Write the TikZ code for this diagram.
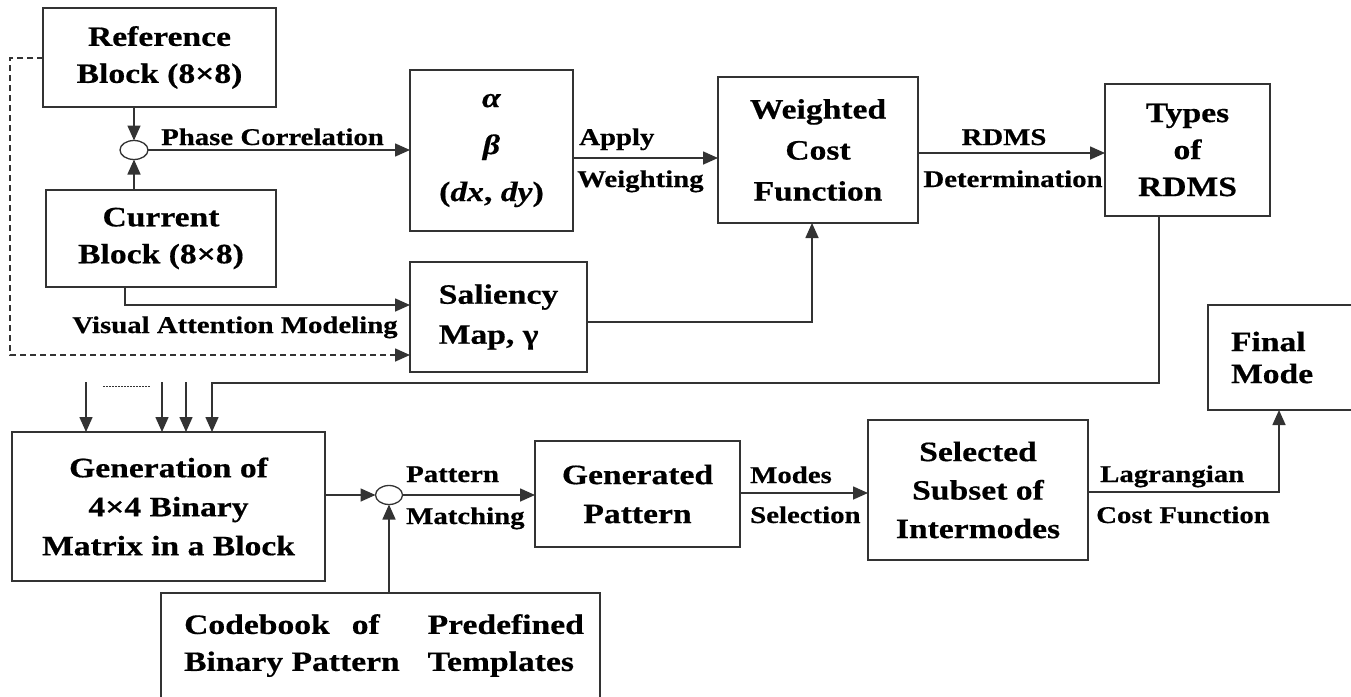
\documentclass[tikz,border=0pt]{standalone}
\usepackage{fontspec}
\setmainfont[FakeStretch=1.2, BoldFeatures={FakeBold=0.5},
  BoldItalicFeatures={FakeBold=0.5}]{Liberation Serif}
\usetikzlibrary{arrows.meta,shapes.geometric}
\definecolor{lc}{HTML}{333333}
\newcommand{\bxfont}{\fontsize{28}{37}\selectfont\bfseries}
\newcommand{\lbfont}{\fontsize{24}{29}\selectfont\bfseries}

\begin{document}
\begin{tikzpicture}[x=1pt,y=-1pt,
  blk/.style={draw=lc, line width=1.6pt, inner sep=0pt, outer sep=0pt,
    align=center, font=\bxfont},
  lbl/.style={inner sep=0pt, font=\lbfont},
  arr/.style={draw=lc, line width=1.6pt, -{Triangle[length=15pt,width=13pt]}},
  junc/.style={draw=lc, ellipse, line width=1.3pt, minimum width=28pt,
    minimum height=19pt, inner sep=0pt, outer sep=0pt}]
\useasboundingbox (0,0) rectangle (1351,696);

% upper row: motion analysis
\node[blk, minimum width=233pt, minimum height=99pt] (ref) at (159.5,57.5)
  {Reference\\Block (8×8)};
\node[blk, minimum width=230pt, minimum height=97pt] (cur) at (161,238.5)
  {Current\\Block (8×8)};
\node[junc] (c1) at (134,150) {};
\node[blk, minimum width=163pt, minimum height=161pt,
  font=\fontsize{28}{47}\selectfont\bfseries] (ab) at (491.5,150.5)
  {\textit{α}\\\textit{β}\\(\textit{dx}, \textit{dy})};
\node[blk, minimum width=200pt, minimum height=146pt,
  font=\fontsize{28}{41}\selectfont\bfseries] (wc) at (818,150)
  {Weighted\\Cost\\Function};
\node[blk, minimum width=165pt, minimum height=132pt] (types) at (1187.5,150)
  {Types\\of\\RDMS};
\node[blk, minimum width=177pt, minimum height=110pt, align=left,
  font=\fontsize{28}{40}\selectfont\bfseries] (sal) at (498.5,317)
  {Saliency\\Map, γ};

% lower row: pattern based mode decision
\node[blk, minimum width=313pt, minimum height=149pt,
  font=\fontsize{28}{39}\selectfont\bfseries] (gen) at (168.5,506.5)
  {Generation of\\4×4 Binary\\Matrix in a Block};
\node[junc, minimum width=27pt] (c2) at (389,495) {};
\node[blk, minimum width=205pt, minimum height=106pt,
  font=\fontsize{28}{39}\selectfont\bfseries] (gp) at (637.5,494)
  {Generated\\Pattern};
\node[blk, minimum width=220pt, minimum height=140pt,
  font=\fontsize{28}{38.5}\selectfont\bfseries] (sel) at (978,490)
  {Selected\\Subset of\\Intermodes};
\node[blk, minimum width=150pt, minimum height=105pt, text width=104pt,
  align=left, font=\fontsize{28}{32}\selectfont\bfseries] (fin) at (1283,357.5)
  {Final\\Mode};
\node[blk, minimum width=439pt, minimum height=117pt] (cb) at (380.5,651.5) {};
\node[inner sep=0pt, font=\bxfont] (cbt) at (384,645)
  {\begin{tabular}{@{}l@{\hspace{28pt}}l@{}}
   Codebook\hspace{22pt}of & Predefined\\
   Binary Pattern & Templates
   \end{tabular}};

% connector labels
\node[lbl, anchor=base west] (lpc) at (161,145) {Phase Correlation};
\node[lbl, anchor=base west] (lap) at (579,145) {Apply};
\node[lbl, anchor=base west] (lwt) at (577,187) {Weighting};
\node[lbl, anchor=base] (lrd) at (1004,145) {RDMS};
\node[lbl, anchor=base] (ldt) at (1013,187) {Determination};
\node[lbl, anchor=base] (lva) at (235,333) {Visual Attention Modeling};
\node[lbl, anchor=base west] (lpt) at (406,482) {Pattern};
\node[lbl, anchor=base west] (lmt) at (406,524) {Matching};
\node[lbl, anchor=base west] (lmd) at (750,483) {Modes};
\node[lbl, anchor=base west] (lsl) at (750,523) {Selection};
\node[lbl, anchor=base west] (llg) at (1100,482) {Lagrangian};
\node[lbl, anchor=base west] (lcf) at (1096,523) {Cost Function};

% routing points
\coordinate (ap) at (0,158);
\coordinate (rd) at (0,153);
\coordinate (sw) at (812,322);
\coordinate (va) at (125,305);
\coordinate (d1) at (10,58);
\coordinate (d2) at (10,355);
\coordinate (t1) at (1159,383);
\coordinate (t2) at (212,383);
\coordinate (i1) at (86,382);
\coordinate (i2) at (162,382);
\coordinate (i3) at (186,382);
\coordinate (dt1) at (103,386);
\coordinate (dt2) at (150,386);
\coordinate (ms) at (0,493);
\coordinate (lg) at (1279,492);

% connectors
\draw[arr] (ref.south -| c1) -- (c1.north);
\draw[arr] (cur.north -| c1) -- (c1.south);
\draw[arr] (c1.east) -- (c1.east -| ab.west);
\draw[arr] (ab.east |- ap) -- (wc.west |- ap);
\draw[arr] (wc.east |- rd) -- (types.west |- rd);
\draw[arr] (sal.east |- sw) -- (sw) -- (wc.south -| sw);
\draw[arr] (cur.south -| va) -- (va) -- (sal.west |- va);
\draw[arr, dash pattern=on 6pt off 4pt] (ref.west |- d1) -- (d1) -- (d2) -- (sal.west |- d2);
\draw[arr] (types.south -| t1) -- (t1) -- (t2) -- (gen.north -| t2);
\draw[arr] (i1) -- (gen.north -| i1);
\draw[arr] (i2) -- (gen.north -| i2);
\draw[arr] (i3) -- (gen.north -| i3);
\draw[draw=lc, line width=1pt, dash pattern=on 1.5pt off 1.5pt] (dt1) -- (dt2);
\draw[arr] (gen.east |- c2) -- (c2.west);
\draw[arr] (cb.north -| c2) -- (c2.south);
\draw[arr] (c2.east) -- (gp.west |- c2);
\draw[arr] (gp.east |- ms) -- (sel.west |- ms);
\draw[arr] (sel.east |- lg) -- (lg) -- (fin.south -| lg);
\end{tikzpicture}
\end{document}
